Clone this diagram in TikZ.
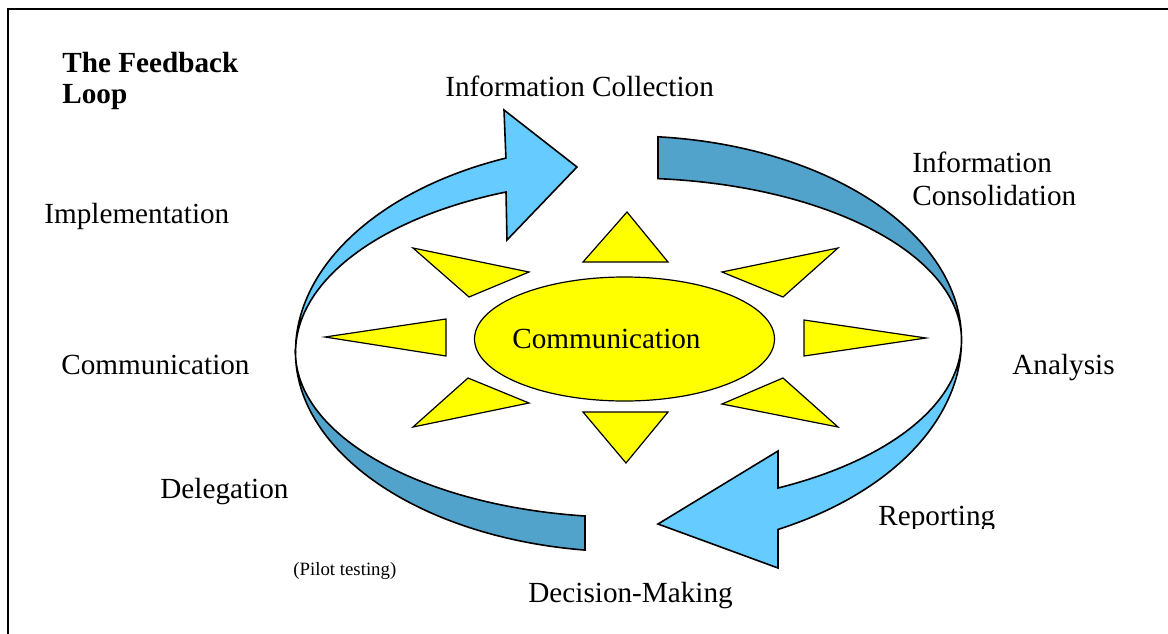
\documentclass[tikz,border=0pt]{standalone}
\usepackage{fontspec}
\setmainfont{Liberation Serif}
\usepackage{tikz}
\definecolor{loopfront}{HTML}{66CCFF}
\definecolor{loopback}{HTML}{52A3CC}
\definecolor{sunyellow}{HTML}{FFFF00}
\tikzstyle{frontband} = [draw=black, line width=0.8pt, fill=loopfront]
\tikzstyle{backband} = [draw=black, line width=0.8pt, fill=loopback]
\tikzstyle{ray} = [draw=black, line width=0.6pt, fill=sunyellow]
\tikzstyle{lbl} = [inner sep=0pt, anchor=base west, font=\fontsize{14.6}{17}\selectfont]

\begin{document}
\begin{tikzpicture}[x=0.5pt, y=-0.5pt]
    \useasboundingbox (0,0) rectangle (1168,633);
    % page frame
    \draw[line width=1.2pt] (8,660) -- (8,9) -- (1190,9);

    % sun in the middle
    \draw[ray] (624.5,339) ellipse [x radius=150, y radius=62];
    \draw[ray] (627,212) -- (668,262) -- (583,262) -- cycle;
    \draw[ray] (583,412) -- (668,412) -- (626,463) -- cycle;
    \draw[ray] (325,337) -- (446,319) -- (446,356) -- cycle;
    \draw[ray] (926,338) -- (804,320) -- (804,356) -- cycle;
    \draw[ray] (413,248) -- (529,272) -- (469,297) -- cycle;
    \draw[ray] (838,248) -- (722,272) -- (783,297) -- cycle;
    \draw[ray] (468,378) -- (529,403) -- (413,427) -- cycle;
    \draw[ray] (783,378) -- (722,404) -- (838,427) -- cycle;
    \node (hubtext) [lbl] at (512,348) {Communication};

    % back side of the loop
    \draw[backband] (658,136.8) arc[start angle=275.08, end angle=360, x radius=333, y radius=204]
        arc[start angle=0, end angle=-84.92, x radius=333, y radius=162] -- cycle;
    \draw[backband] (295.5,352) arc[start angle=180, end angle=97.5, x radius=333, y radius=199.8]
        -- (585,516) arc[start angle=97.5, end angle=180, x radius=333, y radius=165.5] -- cycle;

    % front side with the two arrow heads
    \draw[frontband] (295.5,352) arc[start angle=180, end angle=248.4, x radius=333, y radius=208.6]
        -- (504,110) -- (577,167) -- (507,240) -- (506,192)
        arc[start angle=248.4, end angle=180, x radius=333, y radius=172] -- cycle;
    \draw[frontband] (961.5,340) arc[start angle=0, end angle=63.32, x radius=333, y radius=212]
        -- (778,568) -- (658,524) -- (778,451) -- (778,488)
        arc[start angle=63.32, end angle=0, x radius=333, y radius=165.6] -- cycle;

    % stages round the loop
    \node (title1) [lbl, font=\fontsize{14.6}{17}\selectfont\bfseries] at (62,72) {The Feedback};
    \node (title2) [lbl, font=\fontsize{14.6}{17}\selectfont\bfseries] at (62,103) {Loop};
    \node (collect) [lbl] at (445,96.7) {Information Collection};
    \node (consol1) [lbl] at (912,172) {Information};
    \node (consol2) [lbl] at (912,205) {Consolidation};
    \node (analysis) [lbl] at (1012,374) {Analysis};
    \begin{scope}
        \clip (860,480) rectangle (1030,528.5);
        \node (report) [lbl] at (878,525) {Reporting};
    \end{scope}
    \node (decide) [lbl] at (528,602) {Decision-Making};
    \node (pilot) [lbl, font=\fontsize{9.4}{11}\selectfont] at (293,575) {(Pilot testing)};
    \node (delegate) [lbl] at (160,498) {Delegation};
    \node (comm) [lbl] at (61,374) {Communication};
    \node (implement) [lbl] at (44,223) {Implementation};
\end{tikzpicture}
\end{document}
